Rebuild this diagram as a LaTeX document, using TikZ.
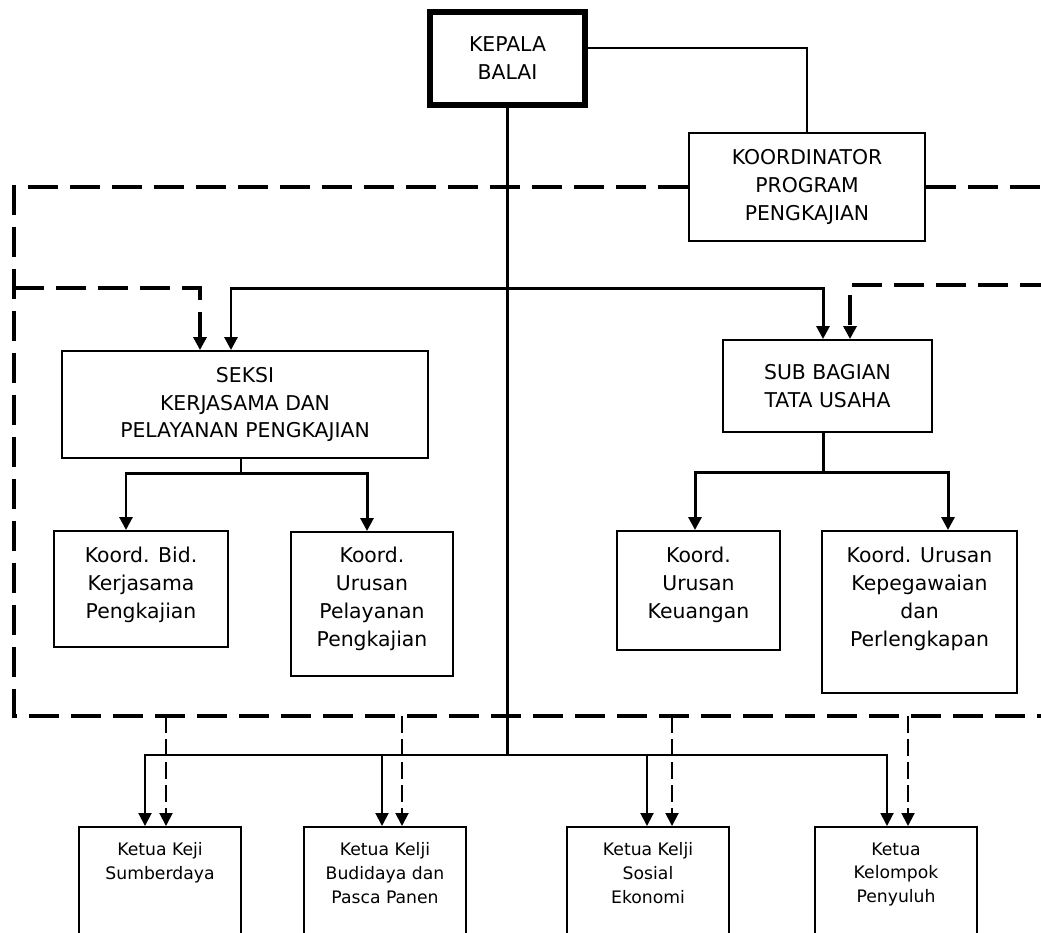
\documentclass[tikz,border=0pt]{standalone}
\usepackage{fontspec}
\setmainfont{DejaVu Sans}
\usetikzlibrary{calc,positioning,arrows.meta}

\begin{document}
\begin{tikzpicture}[
    unit/.style={rectangle, draw=black, line width=1.1pt, fill=white, align=center, font=\fontsize{11.6}{15.9}\selectfont},
    head/.style={unit, line width=2.9pt},
    cell/.style={rectangle, draw=black, line width=1.1pt, fill=white, anchor=north},
    celltext/.style={align=center, anchor=north, inner sep=0pt, font=\fontsize{11.6}{15.9}\selectfont},
    smalltext/.style={celltext, font=\fontsize{9.8}{13.4}\selectfont},
    link/.style={line width=1.7pt},
    arrow/.style={link, -{Triangle[length=2.6mm, width=2.6mm]}},
    wirearrow/.style={line width=1.1pt, -{Triangle[length=2.6mm, width=2.6mm]}},
    frame/.style={line width=2.3pt, dash pattern=on 0.6cm off 0.24cm},
    framearrow/.style={line width=2pt, dash pattern=on 0.6cm off 0.24cm, -{Triangle[length=2.6mm, width=2.6mm]}},
    dasharrow/.style={line width=1.1pt, dash pattern=on 0.34cm off 0.12cm, -{Triangle[length=2.6mm, width=2.6mm]}},
]
\useasboundingbox (0,0) rectangle (20.82,-18.64);
\clip (0,0) rectangle (20.82,-18.64);

% Head and coordinator
\node[head, minimum width=3.1cm, minimum height=1.86cm] (kepala) at (10.15,-1.17) {KEPALA\\BALAI};
\node[unit, minimum width=4.72cm, minimum height=2.16cm] (koord) at (16.14,-3.74) {KOORDINATOR\\PROGRAM\\PENGKAJIAN};

% Seksi and Sub Bagian
\node[unit, minimum width=7.32cm, minimum height=2.14cm] (seksi) at (4.9,-8.09) {SEKSI\\KERJASAMA DAN\\PELAYANAN PENGKAJIAN};
\node[unit, minimum width=4.18cm, minimum height=1.84cm] (subbag) at (16.55,-7.72) {SUB BAGIAN\\TATA USAHA};

% Koordinator units
\node[cell, minimum width=3.48cm, minimum height=2.32cm] (bid) at (2.82,-10.6) {};
\node[celltext, below=0.33cm of bid.north] (bid-txt) {Koord. Bid.\\Kerjasama\\Pengkajian};
\node[cell, minimum width=3.24cm, minimum height=2.88cm] (pelayanan) at (7.44,-10.62) {};
\node[celltext, below=0.31cm of pelayanan.north] (pelayanan-txt) {Koord.\\Urusan\\Pelayanan\\Pengkajian};
\node[cell, minimum width=3.26cm, minimum height=2.38cm] (keuangan) at (13.97,-10.6) {};
\node[celltext, below=0.33cm of keuangan.north] (keuangan-txt) {Koord.\\Urusan\\Keuangan};
\node[cell, minimum width=3.9cm, minimum height=3.24cm] (kepeg) at (18.39,-10.6) {};
\node[celltext, below=0.33cm of kepeg.north] (kepeg-txt) {Koord. Urusan\\Kepegawaian\\dan\\Perlengkapan};

% Kelompok pengkajian
\node[cell, minimum width=3.24cm, minimum height=3cm] (sumber) at (3.2,-16.52) {};
\node[smalltext, below=0.33cm of sumber.north] (sumber-txt) {Ketua Keji\\Sumberdaya};
\node[cell, minimum width=3.24cm, minimum height=3cm] (budidaya) at (7.7,-16.52) {};
\node[smalltext, below=0.33cm of budidaya.north] (budidaya-txt) {Ketua Kelji\\Budidaya dan\\Pasca Panen};
\node[cell, minimum width=3.24cm, minimum height=3cm] (sosial) at (12.96,-16.52) {};
\node[smalltext, below=0.33cm of sosial.north] (sosial-txt) {Ketua Kelji\\Sosial\\Ekonomi};
\node[cell, minimum width=3.24cm, minimum height=3cm] (penyuluh) at (17.92,-16.52) {};
\node[smalltext, below=0.33cm of penyuluh.north] (penyuluh-txt) {Ketua\\Kelompok\\Penyuluh};

% Dashed frame
\coordinate (frame-sw) at (0.28,-14.32);
\coordinate (frame-se) at (21,-14.32);
\draw[frame] (koord.west) -- (koord.west -| frame-sw) -- (frame-sw) -- (frame-se);
\draw[frame] (koord.east) -- (koord.east -| frame-se);
\coordinate (seksi-in) at (0.28,-5.76);
\coordinate (subbag-in) at (21,-5.7);
\draw[framearrow] (seksi-in) -| ([xshift=-0.9cm]seksi.north);
\draw[framearrow] (subbag-in) -| ([xshift=0.45cm]subbag.north);

% Solid lines
\draw[line width=1.4pt] ([yshift=0.21cm]kepala.east) -| (koord.north);
\coordinate (tap) at (kepala.south |- 0,-5.76);
\coordinate (hub) at (kepala.south |- 0,-15.1);
\draw[link] (kepala.south) -- (hub);
\draw[arrow] (tap) -| ([xshift=-0.28cm]seksi.north);
\draw[arrow] (tap) -| ([xshift=-0.09cm]subbag.north);

\coordinate (seksi-fork) at ([xshift=-0.08cm]seksi.south |- 0,-9.46);
\draw[link] ([xshift=-0.08cm]seksi.south) -- (seksi-fork);
\draw[arrow] (seksi-fork) -| ([xshift=-0.3cm]bid.north);
\draw[arrow] (seksi-fork) -| ([xshift=-0.1cm]pelayanan.north);

\coordinate (subbag-fork) at ([xshift=-0.09cm]subbag.south |- 0,-9.44);
\draw[link] ([xshift=-0.09cm]subbag.south) -- (subbag-fork);
\draw[arrow] (subbag-fork) -| ([xshift=-0.07cm]keuangan.north);
\draw[arrow] (subbag-fork) -| ([xshift=0.57cm]kepeg.north);

% To kelompok
\draw[wirearrow] (hub) -| ([xshift=-0.3cm]sumber.north);
\draw[wirearrow] (hub) -| ([xshift=-0.06cm]budidaya.north);
\draw[wirearrow] (hub) -| ([xshift=-0.02cm]sosial.north);
\draw[wirearrow] (hub) -| ([xshift=-0.18cm]penyuluh.north);

\draw[dasharrow] ([xshift=0.12cm]sumber.north |- frame-sw) -- ([xshift=0.12cm]sumber.north);
\draw[dasharrow] ([xshift=0.34cm]budidaya.north |- frame-sw) -- ([xshift=0.34cm]budidaya.north);
\draw[dasharrow] ([xshift=0.48cm]sosial.north |- frame-sw) -- ([xshift=0.48cm]sosial.north);
\draw[dasharrow] ([xshift=0.24cm]penyuluh.north |- frame-sw) -- ([xshift=0.24cm]penyuluh.north);

\end{tikzpicture}
\end{document}
